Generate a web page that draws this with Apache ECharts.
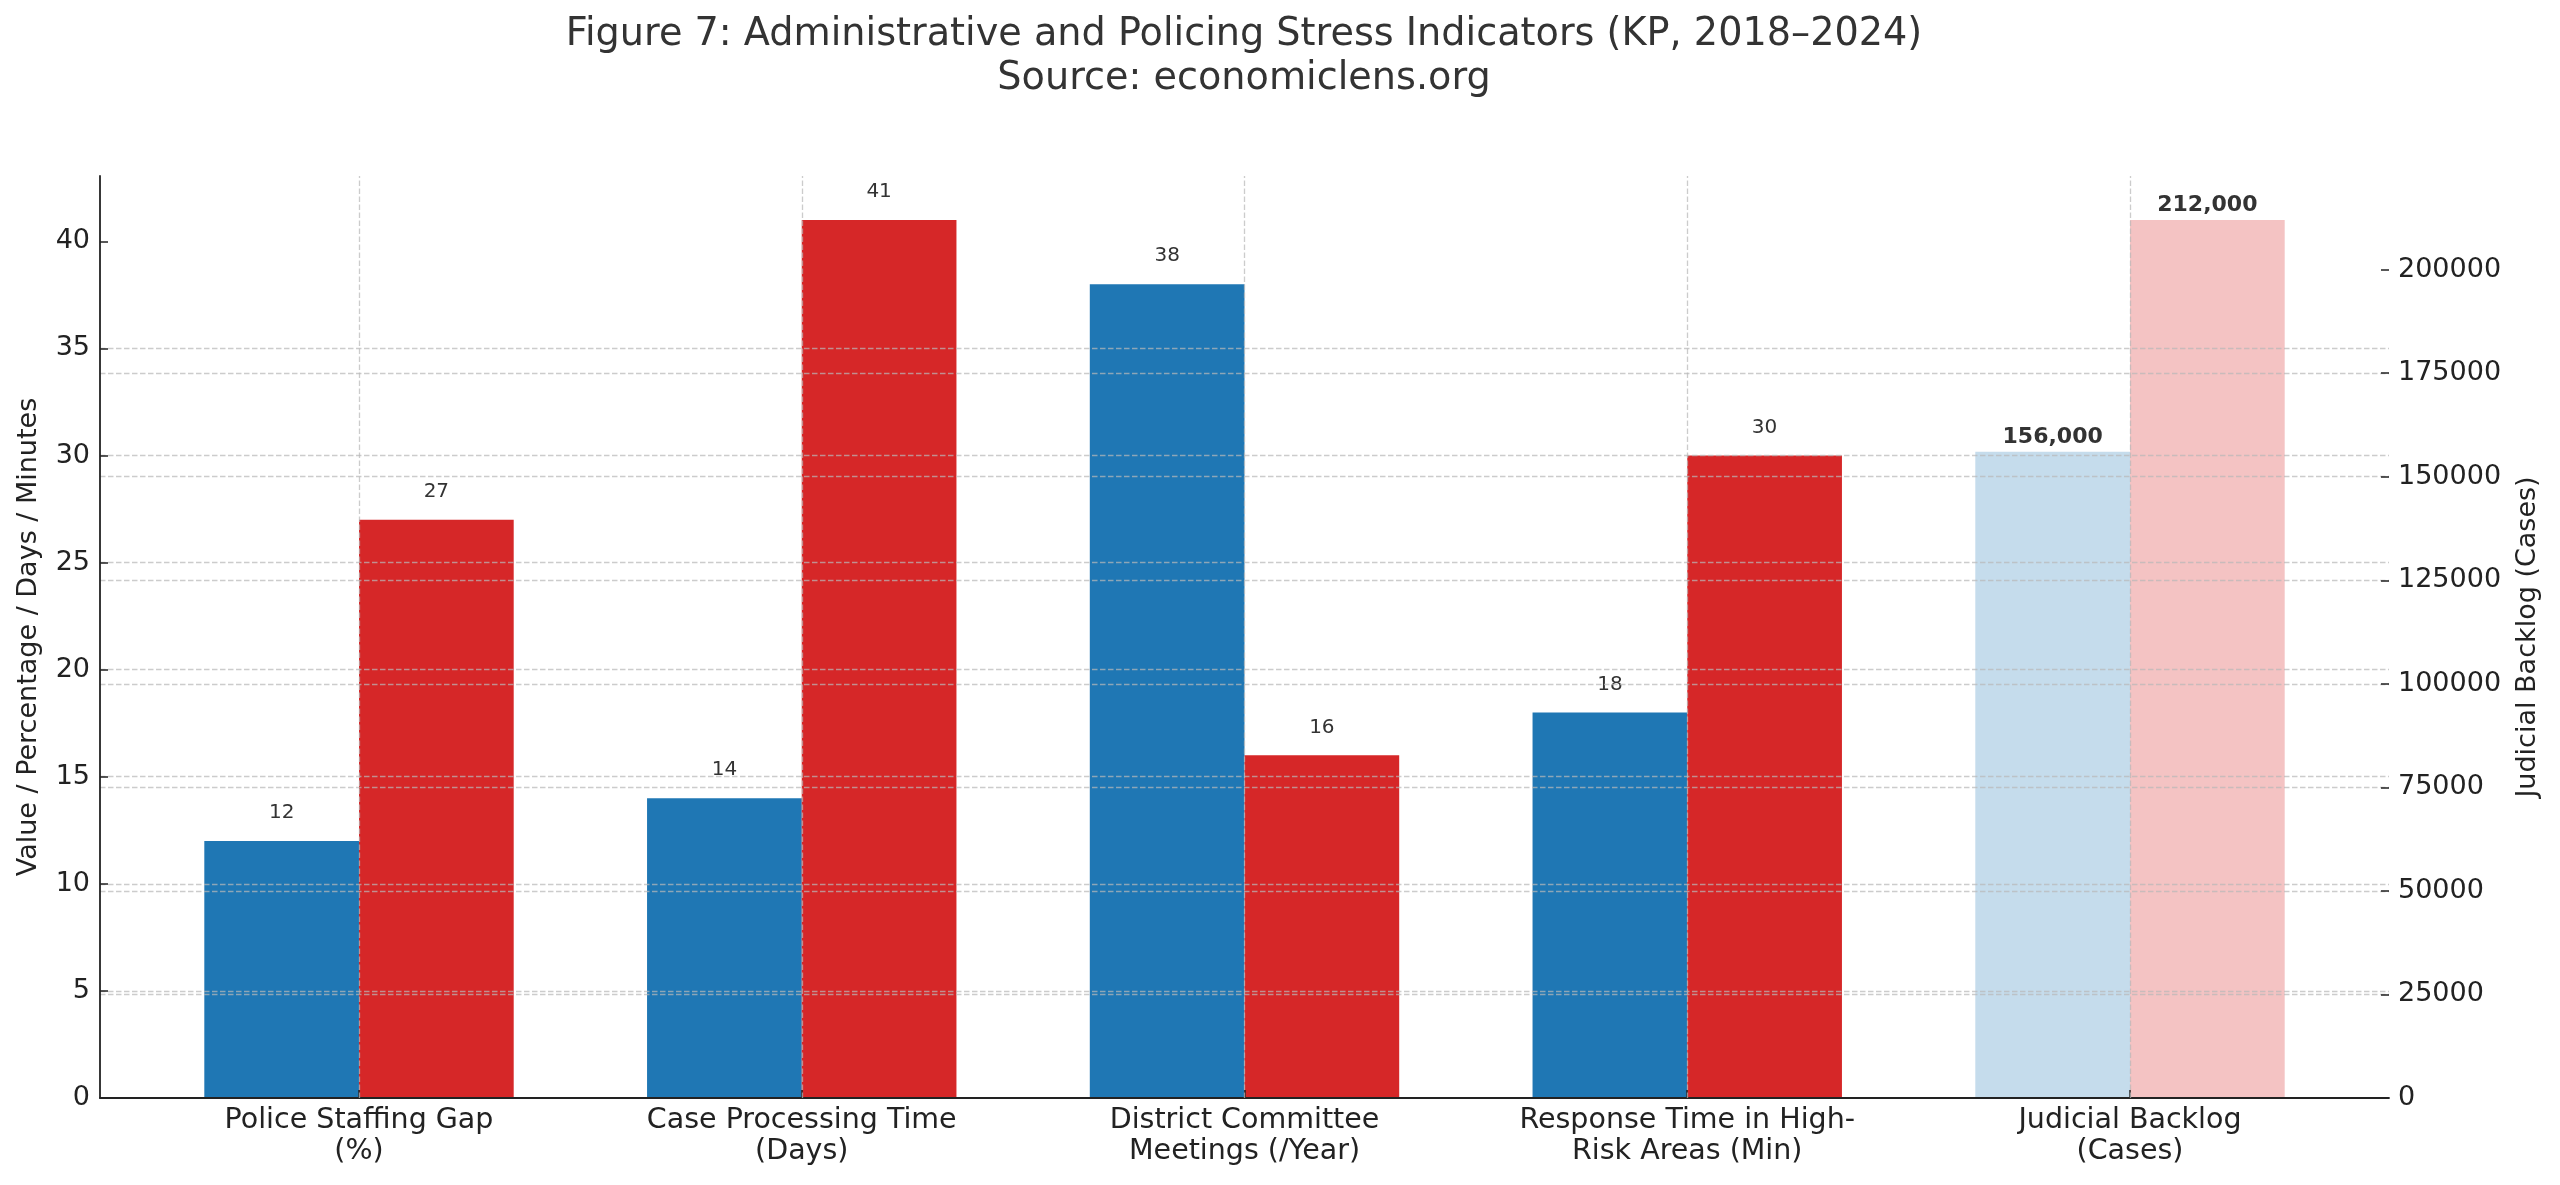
<!DOCTYPE html>
<html>
<head>
<meta charset="utf-8">
<script src="https://cdn.jsdelivr.net/npm/echarts@6/dist/echarts.min.js"></script>
<style>
html,body{margin:0;padding:0;background:#fff;}
#chart{width:2560px;height:1185px;}
</style>
</head>
<body>
<div id="chart"></div>
<script>
// ---- data ----
const categories = [
  "Police Staffing Gap\n(%)",
  "Case Processing Time\n(Days)",
  "District Committee\nMeetings (/Year)",
  "Response Time in High-\nRisk Areas (Min)",
  "Judicial Backlog\n(Cases)"
];
const values2018 = [12, 14, 38, 18];          // blue, left axis
const values2024 = [27, 41, 16, 30];          // red, left axis
const backlog2018 = 156000;                   // light blue, right axis
const backlog2024 = 212000;                   // light red, right axis
const leftTicks = [0, 5, 10, 15, 20, 25, 30, 35, 40];
const rightTicks = [0, 25000, 50000, 75000, 100000, 125000, 150000, 175000, 200000];
const titleLines = ["Figure 7: Administrative and Policing Stress Indicators (KP, 2018\u20132024)", "Source: economiclens.org"];
const leftAxisName = "Value / Percentage / Days / Minutes";
const rightAxisName = "Judicial Backlog (Cases)";

// ---- build ----
const FONT = "DejaVu Sans";
const catIdx = categories.map((c, i) => i);
const mainIdx = catIdx.slice(0, 4);
const backlogIdx = 4;
const gridColor = "rgba(185,185,185,0.72)";
const dash = [5.5, 2.5];
const BW = 154.7;

const chart = echarts.init(document.getElementById('chart'), null, {renderer: 'canvas'});

const labelNormal = {show: true, position: 'top', distance: 18, fontFamily: FONT, fontSize: 20, color: '#333'};
const labelBold = {show: true, position: 'top', distance: 4, fontFamily: FONT, fontSize: 22, fontWeight: 'bold', color: '#333',
  formatter: p => p.value[1].toLocaleString('en-US')};

const option = {
  animation: false,
  backgroundColor: '#ffffff',
  graphic: [
    {type: 'text', x: 1244, y: 35, style: {text: titleLines[0], fontFamily: FONT, fontSize: 38.2, fill: '#333', align: 'center', verticalAlign: 'middle'}},
    {type: 'text', x: 1244, y: 79, style: {text: titleLines[1], fontFamily: FONT, fontSize: 38.2, fill: '#333', align: 'center', verticalAlign: 'middle'}}
  ],
  grid: {left: 100, right: 171, top: 176, bottom: 87, containLabel: false},
  xAxis: [
    {
      type: 'value', min: -0.585, max: 4.585,
      axisLine: {show: true, onZero: false, lineStyle: {color: '#222', width: 1.8}},
      axisTick: {show: true, inside: true, length: 8, lineStyle: {color: '#222', width: 1.5}, customValues: catIdx},
      axisLabel: {show: true, customValues: catIdx, formatter: v => categories[Math.round(v)] || '',
        fontFamily: FONT, fontSize: 28.5, lineHeight: 31, color: '#222', margin: 7},
      splitLine: {show: false}, z: 4
    },
    {type: 'value', min: -0.585, max: 4.585, show: false}
  ],
  yAxis: [
    {
      type: 'value', position: 'left', min: 0, max: 43.05, interval: 5,
      name: leftAxisName, nameLocation: 'middle', nameGap: 58, nameMoveOverlap: false,
      nameTextStyle: {fontFamily: FONT, fontSize: 27, color: '#222'},
      axisLine: {show: true, onZero: false, lineStyle: {color: '#222', width: 1.8}},
      axisTick: {show: true, inside: true, length: 8, lineStyle: {color: '#222', width: 1.5}, customValues: leftTicks},
      axisLabel: {customValues: leftTicks, formatter: v => String(v), fontFamily: FONT, fontSize: 27, color: '#222', margin: 10},
      splitLine: {show: true, showMinLine: false, showMaxLine: false, lineStyle: {color: gridColor, type: dash, width: 1.3}},
      z: 3
    },
    {
      type: 'value', position: 'right', min: 0, max: 222600, interval: 25000,
      name: rightAxisName, nameLocation: 'middle', nameGap: 125, nameMoveOverlap: false,
      nameTextStyle: {fontFamily: FONT, fontSize: 27, color: '#222'},
      axisLine: {show: false, onZero: false},
      axisTick: {show: true, inside: true, length: 8, lineStyle: {color: '#222', width: 1.5}, customValues: rightTicks},
      axisLabel: {customValues: rightTicks, formatter: v => String(v), fontFamily: FONT, fontSize: 27, color: '#222', margin: 9},
      splitLine: {show: true, showMinLine: false, showMaxLine: false, lineStyle: {color: gridColor, type: dash, width: 1.3}},
      z: 3
    }
  ],
  series: [
    {type: 'bar', name: '2018', xAxisIndex: 0, yAxisIndex: 0, barWidth: BW, barGap: '0%',
      itemStyle: {color: '#1f77b4'}, label: labelNormal,
      data: mainIdx.map(i => [i, values2018[i]])},
    {type: 'bar', name: '2024', xAxisIndex: 0, yAxisIndex: 0, barWidth: BW, barGap: '0%',
      itemStyle: {color: '#d62728'}, label: labelNormal,
      data: mainIdx.map(i => [i, values2024[i]])},
    {type: 'bar', name: 'Backlog 2018', xAxisIndex: 1, yAxisIndex: 1, barWidth: BW, barGap: '0%',
      itemStyle: {color: 'rgba(31,119,180,0.26)'}, label: labelBold,
      data: [[backlogIdx, backlog2018]]},
    {type: 'bar', name: 'Backlog 2024', xAxisIndex: 1, yAxisIndex: 1, barWidth: BW, barGap: '0%',
      itemStyle: {color: 'rgba(214,39,40,0.28)'}, label: labelBold,
      data: [[backlogIdx, backlog2024]]},
    {type: 'line', name: 'vgrid', xAxisIndex: 0, yAxisIndex: 0, data: [], silent: true, symbol: 'none',
      markLine: {silent: true, symbol: 'none', z: 5, label: {show: false}, animation: false,
        lineStyle: {color: gridColor, type: dash, width: 1.3},
        data: catIdx.map(i => ({xAxis: i}))}}
  ]
};
chart.setOption(option);
</script>
</body>
</html>
